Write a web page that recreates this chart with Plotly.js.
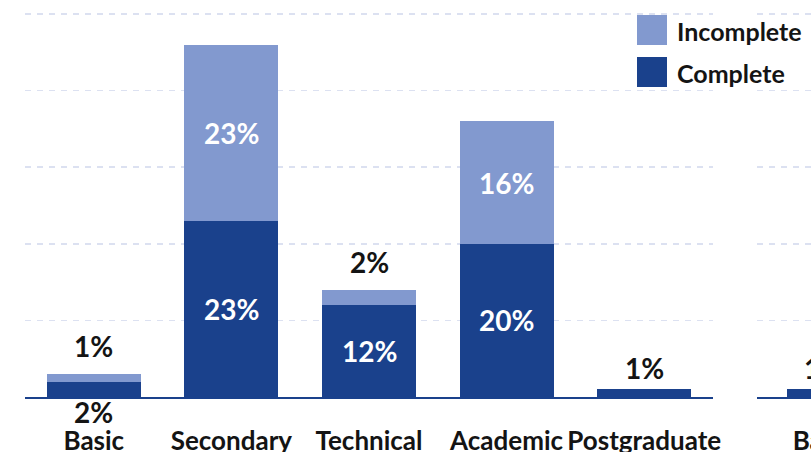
<!DOCTYPE html>
<html>
<head>
<meta charset="utf-8">
<script src="https://cdn.plot.ly/plotly-3.0.1.min.js"></script>
<style>
html,body{margin:0;padding:0;overflow:hidden;background:#fff;}
#chart{width:1460px;height:452px;}
</style>
</head>
<body>
<div id="chart"></div>
<script>
// ---- data ----
const categories = ["Basic", "Secondary", "Technical", "Academic", "Postgraduate"];
const complete   = [2, 23, 12, 20, 1];
const incomplete = [1, 23, 2, 16, 0];
// second (cropped) panel, only its first category is visible
const categories2 = ["Basic"];
const complete2   = [1];
const incomplete2 = [0];
const seriesNames = ["Incomplete", "Complete"];

// ---- styling ----
const W = 1460, H = 452;
const cLight = "#8299CF", cDark = "#1A418C";
const FONT = "Lato, 'Open Sans', sans-serif";
const txtDark = "#141414";
const labelSize = 28;

function pct(v){ return v + "%"; }

function barTraces(cats, comp, inc, xa, ya){
  return [
    {type:"bar", x:cats, y:comp, name:seriesNames[1], marker:{color:cDark}, xaxis:xa, yaxis:ya, hoverinfo:"none", showlegend:false},
    {type:"bar", x:cats, y:inc,  name:seriesNames[0], marker:{color:cLight}, xaxis:xa, yaxis:ya, hoverinfo:"none", showlegend:false}
  ];
}

function labels(cats, comp, inc, xa, ya){
  const out = [];
  cats.forEach((cat, i) => {
    const c = comp[i], n = inc[i], tot = c + n;
    const base = {x:cat, xref:xa, yref:ya, showarrow:false, font:{family:FONT, size:labelSize, weight:"bold"}};
    if (c >= 5) {
      out.push(Object.assign({}, base, {y:c/2, text:pct(c), yanchor:"middle", font:Object.assign({}, base.font, {color:"#ffffff"})}));
    } else if (c > 0 && n > 0) {
      out.push(Object.assign({}, base, {y:0, text:pct(c), yanchor:"top", yshift:4, font:Object.assign({}, base.font, {color:txtDark})}));
    } else if (c > 0) {
      out.push(Object.assign({}, base, {y:tot, text:pct(c), yanchor:"bottom", yshift:2, font:Object.assign({}, base.font, {color:txtDark})}));
    }
    if (n >= 5) {
      out.push(Object.assign({}, base, {y:c + n/2, text:pct(n), yanchor:"middle", font:Object.assign({}, base.font, {color:"#ffffff"})}));
    } else if (n > 0) {
      out.push(Object.assign({}, base, {y:tot, text:pct(n), yanchor:"bottom", yshift:9, font:Object.assign({}, base.font, {color:txtDark})}));
    }
  });
  return out;
}

const data = barTraces(categories, complete, incomplete, "x", "y")
  .concat(barTraces(categories2, complete2, incomplete2, "x2", "y2"));

const plotH = 397; // plot area height in px (margin b = 55)
const yMax = 51.83;

const yax = {range:[0, yMax], showticklabels:false, zeroline:false, showline:false,
  tick0:0, dtick:10, showgrid:true, gridcolor:"#DCE1F1", gridwidth:1.5, griddash:"6px,6px", fixedrange:true};
const xax = {type:"category", showline:true, linecolor:cDark, linewidth:2, ticks:"",
  showgrid:false, zeroline:false, ticklabelstandoff:20,
  tickfont:{family:FONT, size:26, color:txtDark, weight:"bold"}, fixedrange:true};

// legend drawn manually (large square swatches)
const legendShapes = [
  {type:"rect", xref:"paper", yref:"paper", x0:637/W, x1:667/W, y0:(plotH-45)/plotH, y1:(plotH-15)/plotH, fillcolor:cLight, line:{width:0}},
  {type:"rect", xref:"paper", yref:"paper", x0:637/W, x1:667/W, y0:(plotH-87)/plotH, y1:(plotH-57)/plotH, fillcolor:cDark, line:{width:0}}
];
const legendText = [
  {xref:"paper", yref:"paper", x:675/W, y:(plotH-31)/plotH, xanchor:"left", yanchor:"middle", showarrow:false,
   text:seriesNames[0], font:{family:FONT, size:25, color:txtDark, weight:"bold"}},
  {xref:"paper", yref:"paper", x:675/W, y:(plotH-73)/plotH, xanchor:"left", yanchor:"middle", showarrow:false,
   text:seriesNames[1], font:{family:FONT, size:25, color:txtDark, weight:"bold"}}
];

const layout = {
  width:W, height:H,
  margin:{l:0, r:0, t:0, b:H - plotH, pad:0},
  paper_bgcolor:"#ffffff", plot_bgcolor:"#ffffff",
  barmode:"stack", bargap:0.317,
  showlegend:false,
  xaxis:Object.assign({}, xax, {domain:[25/W, 713/W], anchor:"y", range:[-0.5, 4.5]}),
  yaxis:Object.assign({}, yax, {anchor:"x"}),
  xaxis2:Object.assign({}, xax, {domain:[757/W, 1445/W], anchor:"y2", range:[-0.626, 5.9]}),
  yaxis2:Object.assign({}, yax, {anchor:"x2"}),
  shapes:legendShapes,
  annotations:labels(categories, complete, incomplete, "x", "y")
    .concat(labels(categories2, complete2, incomplete2, "x2", "y2"))
    .concat(legendText)
};

Plotly.newPlot("chart", data, layout, {displayModeBar:false, staticPlot:true});
</script>
</body>
</html>
